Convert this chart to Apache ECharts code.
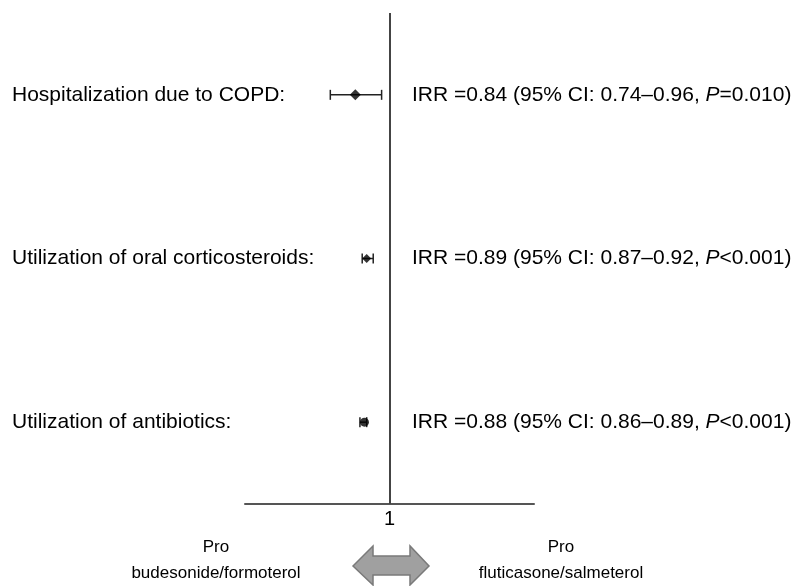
<!DOCTYPE html>
<html>
<head>
<meta charset="utf-8">
<script src="https://cdn.jsdelivr.net/npm/echarts@6/dist/echarts.min.js"></script>
<style>
html,body{margin:0;padding:0;background:#fff;}
#chart{width:797px;height:586px;}
</style>
</head>
<body>
<div id="chart"></div>
<script>
const categories = ['Hospitalization due to COPD:', 'Utilization of oral corticosteroids:', 'Utilization of antibiotics:'];
const irr = [0.84, 0.89, 0.88];
const ciLow = [0.74, 0.87, 0.86];
const ciHigh = [0.96, 0.92, 0.89];
const pSign = ['=', '<', '<'];
const pValue = ['0.010', '0.001', '0.001'];
const xTicks = [1];
const leftNote = ['Pro', 'budesonide/formoterol'];
const rightNote = ['Pro', 'fluticasone/salmeterol'];

const FONT = "'Liberation Sans', Arial, sans-serif";
const rightLabels = categories.map((c, i) =>
  '{n|IRR =' + irr[i].toFixed(2) + ' (95% CI: ' + ciLow[i].toFixed(2) + '\u2013' + ciHigh[i].toFixed(2) + ', }{i|P}{n|' + pSign[i] + pValue[i] + ')}'
);

const chart = echarts.init(document.getElementById('chart'));
const ciData = categories.map((c, i) => [ciLow[i], ciHigh[i], i]);
const ptData = categories.map((c, i) => [irr[i], i]);

chart.setOption({
  animation: false,
  backgroundColor: '#fff',
  grid: { left: 245, right: 263, top: 13, bottom: 82, containLabel: false },
  xAxis: {
    type: 'log',
    min: 0.48,
    max: 2.08,
    axisLine: { show: true, lineStyle: { color: '#555', width: 2 } },
    axisTick: { show: false },
    splitLine: { show: false },
    axisLabel: {
      customValues: xTicks,
      formatter: v => String(v),
      color: '#000', fontFamily: FONT, fontSize: 20, margin: 5
    }
  },
  yAxis: [
    {
      type: 'category',
      data: categories,
      inverse: true,
      axisLine: { show: false },
      axisTick: { show: false },
      splitLine: { show: false },
      axisLabel: { align: 'left', margin: 233, color: '#000', fontFamily: FONT, fontSize: 21 }
    },
    {
      type: 'category',
      data: rightLabels,
      inverse: true,
      position: 'right',
      axisLine: { show: false },
      axisTick: { show: false },
      splitLine: { show: false },
      axisLabel: {
        align: 'left', margin: -122,
        formatter: v => v,
        rich: {
          n: { color: '#000', fontFamily: FONT, fontSize: 21 },
          i: { color: '#000', fontFamily: FONT, fontSize: 21, fontStyle: 'italic' }
        }
      }
    }
  ],
  series: [
    {
      type: 'custom',
      yAxisIndex: 0,
      data: ciData,
      z: 3,
      renderItem: function (params, api) {
        const y = api.coord([1, api.value(2)])[1];
        const x1 = api.coord([api.value(0), api.value(2)])[0];
        const x2 = api.coord([api.value(1), api.value(2)])[0];
        const h = 5;
        const st = { stroke: '#222', lineWidth: 1.5 };
        return {
          type: 'group',
          children: [
            { type: 'line', shape: { x1: x1, y1: y, x2: x2, y2: y }, style: st },
            { type: 'line', shape: { x1: x1, y1: y - h, x2: x1, y2: y + h }, style: st },
            { type: 'line', shape: { x1: x2, y1: y - h, x2: x2, y2: y + h }, style: st }
          ]
        };
      }
    },
    {
      type: 'scatter',
      yAxisIndex: 0,
      data: ptData,
      z: 4,
      symbol: (v, p) => p.dataIndex === 2 ? 'circle' : 'diamond',
      symbolSize: (v, p) => p.dataIndex === 0 ? 11 : 9,
      itemStyle: { color: '#000' },
      markLine: {
        silent: true,
        symbol: 'none',
        label: { show: false },
        lineStyle: { color: '#444', width: 2, type: 'solid' },
        data: [{ xAxis: 1 }]
      }
    }
  ],
  graphic: [
    {
      type: 'text', left: 216, top: 547,
      style: { text: leftNote[0], fontFamily: FONT, fontSize: 17, fill: '#000', align: 'center', verticalAlign: 'middle' },
      x: 216, y: 547
    }
  ]
});

// bottom annotations and arrow (decorations)
chart.setOption({
  graphic: [
    { type: 'text', x: 216, y: 547, style: { text: leftNote[0], fontFamily: FONT, fontSize: 17, fill: '#000', align: 'center', verticalAlign: 'middle' } },
    { type: 'text', x: 216, y: 573, style: { text: leftNote[1], fontFamily: FONT, fontSize: 17, fill: '#000', align: 'center', verticalAlign: 'middle' } },
    { type: 'text', x: 561, y: 547, style: { text: rightNote[0], fontFamily: FONT, fontSize: 17, fill: '#000', align: 'center', verticalAlign: 'middle' } },
    { type: 'text', x: 561, y: 573, style: { text: rightNote[1], fontFamily: FONT, fontSize: 17, fill: '#000', align: 'center', verticalAlign: 'middle' } },
    {
      type: 'polygon',
      shape: { points: [[353, 566], [373, 546], [373, 556], [410, 556], [410, 546], [429, 566], [410, 585], [410, 575], [373, 575], [373, 585]] },
      style: { fill: '#a0a0a0', stroke: '#7a7a7a', lineWidth: 1.5 }
    }
  ]
}, { replaceMerge: ['graphic'] });
</script>
</body>
</html>
